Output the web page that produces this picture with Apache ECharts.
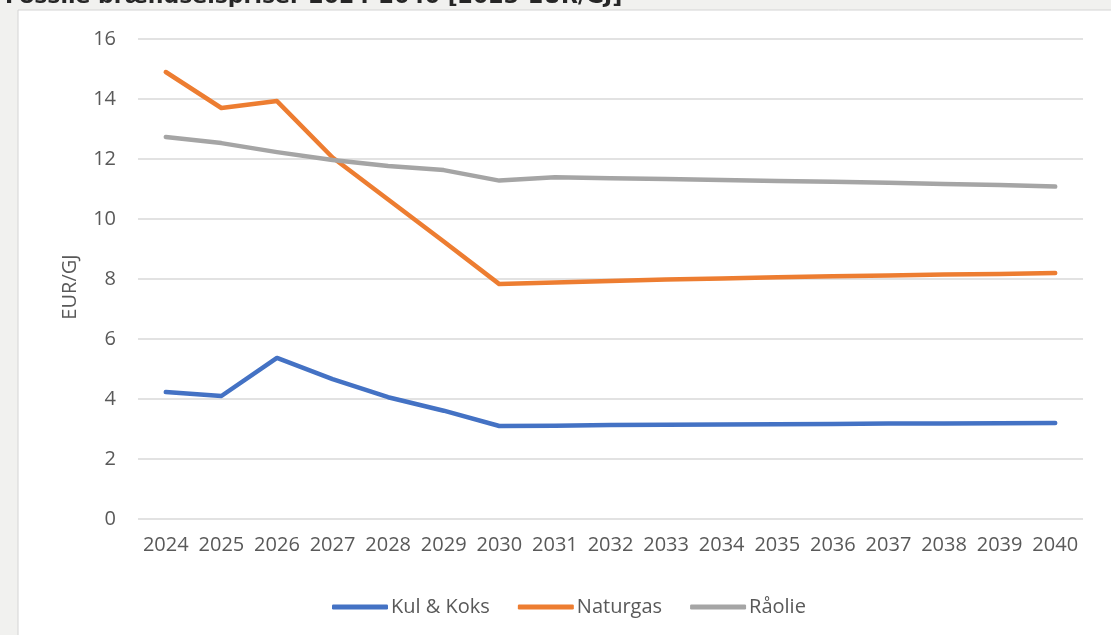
<!DOCTYPE html>
<html>
<head>
<meta charset="utf-8">
<script src="https://cdn.jsdelivr.net/npm/echarts@6/dist/echarts.min.js"></script>
<style>
  html, body { margin: 0; padding: 0; background: #f1f1ef; }
  #chart { width: 1111px; height: 635px; }
</style>
</head>
<body>
<div id="chart"></div>
<script>
// år på x-aksen
const years = ['2024', '2025', '2026', '2027', '2028', '2029', '2030', '2031', '2032',
  '2033', '2034', '2035', '2036', '2037', '2038', '2039', '2040']

// priser i EUR/GJ
const kulKoks = [4.23, 4.1, 5.37, 4.66, 4.06, 3.61, 3.1, 3.11, 3.13, 3.14, 3.15, 3.16, 3.17, 3.18, 3.18, 3.19, 3.2]
const naturgas = [14.9, 13.7, 13.93, 12.05, 10.65, 9.25, 7.83, 7.88, 7.93, 7.98, 8.02, 8.06, 8.09, 8.12, 8.15, 8.17, 8.2]
const raaolie = [12.73, 12.53, 12.23, 11.97, 11.77, 11.63, 11.28, 11.39, 11.36, 11.33, 11.3, 11.27, 11.24, 11.21, 11.17, 11.13, 11.08]

const seriesNames = ['Kul & Koks', 'Naturgas', 'Råolie']
const seriesColors = ['#4472c4', '#ed7d31', '#a5a5a5']
const seriesData = [kulKoks, naturgas, raaolie]

const font = 'Open Sans'
const chart = echarts.init(document.getElementById('chart'))

chart.setOption({
  backgroundColor: '#f1f1ef',
  animation: false,
  title: {
    text: 'Fossile brændselspriser 2024-2040 [2023-EUR/GJ]',
    left: 0,
    top: -19,
    textStyle: { fontFamily: 'DejaVu Sans', fontWeight: 'bold', fontSize: 22, color: '#262626' }
  },
  graphic: [{
    type: 'rect',
    z: -10,
    shape: { x: 18, y: 10, width: 1100, height: 640 },
    style: { fill: '#ffffff', stroke: '#d4d4d4', lineWidth: 1 }
  }],
  grid: { left: 138, right: 28, top: 39, bottom: 116 },
  legend: {
    left: 327,
    top: 592,
    icon: 'roundRect',
    itemWidth: 56,
    itemHeight: 5,
    itemGap: 28,
    textStyle: { fontFamily: font, fontSize: 20, color: '#595959', padding: [0, 0, 0, -2] },
    data: seriesNames
  },
  xAxis: {
    type: 'category',
    data: years,
    boundaryGap: true,
    axisLine: { show: false },
    axisTick: { show: false },
    axisLabel: { fontFamily: font, fontSize: 20, color: '#595959', margin: 16, interval: 0 }
  },
  yAxis: {
    type: 'value',
    min: 0,
    max: 16,
    interval: 2,
    name: 'EUR/GJ',
    nameLocation: 'middle',
    nameGap: 58,
    nameTextStyle: { fontFamily: font, fontSize: 20, color: '#595959', padding: [0, 0, 0, -16] },
    axisLabel: { fontFamily: font, fontSize: 20, color: '#595959', margin: 22 },
    splitLine: { lineStyle: { color: '#d9d9d9', width: 1.5 } }
  },
  series: seriesNames.map((name, i) => ({
    name: name,
    type: 'line',
    data: seriesData[i],
    symbol: 'none',
    color: seriesColors[i],
    lineStyle: { width: 4.5, color: seriesColors[i], cap: 'round', join: 'round' }
  }))
})
</script>
</body>
</html>
